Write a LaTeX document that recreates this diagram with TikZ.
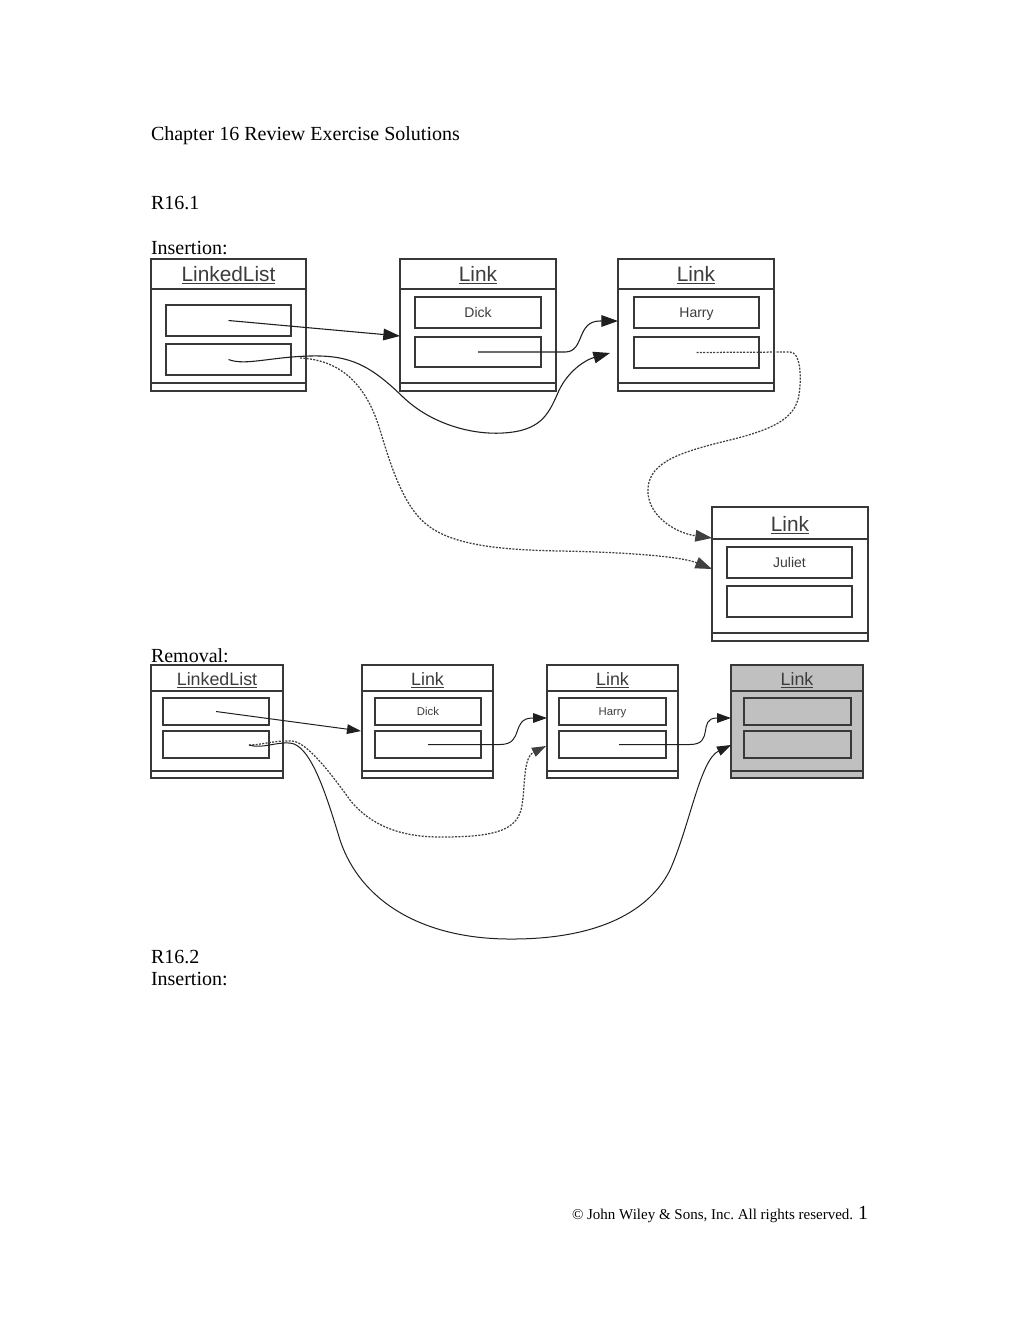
\documentclass[tikz,border=0pt]{standalone}
\usepackage{fontspec}
\setmainfont{Liberation Serif}
\newfontfamily\diagfont{Liberation Sans}
\usetikzlibrary{arrows.meta,calc}
\definecolor{outl}{HTML}{383838}
\definecolor{shade}{HTML}{C0C0C0}
\definecolor{labtxt}{HTML}{3C3C3C}
\newcommand\ulin[1]{\setbox0\hbox{#1}\rlap{\rule[-1.8pt]{\wd0}{0.8pt}}\box0}
\frenchspacing
\begin{document}
\begin{tikzpicture}[x=0.6pt,y=-0.6pt,
  doc/.style={anchor=base west,inner sep=0,outer sep=0,font=\fontsize{12}{14}\selectfont},
  sz/.style 2 args={minimum width=#1*0.6pt,minimum height=#2*0.6pt},
  classbox/.style={draw=outl,line width=1.1pt,inner sep=0,outer sep=0,fill=white},
  fieldbox/.style={draw=outl,line width=1pt,inner sep=0,outer sep=0,text=labtxt},
  fld1/.style={fieldbox,font=\diagfont\fontsize{8.4}{10}\selectfont,text height=6pt,text depth=0pt},
  fld2/.style={fieldbox,font=\diagfont\fontsize{6.8}{8}\selectfont,text height=4.9pt,text depth=0pt},
  sepline/.style={draw=outl,line width=1.1pt},
  hd1/.style={anchor=base,inner sep=0,text=labtxt,font=\diagfont\fontsize{12.5}{14}\selectfont},
  hd2/.style={anchor=base,inner sep=0,text=labtxt,font=\diagfont\fontsize{10.7}{12}\selectfont},
  conn1/.style={draw=black!88,line width=0.65pt,-{Triangle[length=10pt,width=7pt]}},
  conn2/.style={draw=black!88,line width=0.6pt,-{Triangle[length=8.4pt,width=5.8pt]}},
  dconn1/.style={conn1,draw=black!75,line width=0.75pt,dash pattern=on 1.2pt off 0.8pt},
  dconn2/.style={conn2,draw=black!75,line width=0.75pt,dash pattern=on 1.2pt off 0.8pt},
]
\useasboundingbox (0,0) rectangle (1020,1320);

% ---------- document text ----------
\node[doc] (title) at (151,140) {Chapter 16 Review Exercise Solutions};
\node[doc] (r161) at (151,209) {R16.1};
\node[doc] (ins1) at (151,254) {Insertion:};
\node[doc] (rem1) at (151,662) {Removal:};
\node[doc] (r162) at (151,963) {R16.2};
\node[doc] (ins2) at (151,985) {Insertion:};
\node[doc,font=\fontsize{9}{11}\selectfont] (copy) at (572,1219) {© John Wiley \& Sons, Inc. All rights reserved.};
\node[doc] (pageno) at (858,1219) {1};

% ---------- R16.1 insertion ----------
\node[classbox,sz={155}{132}] (ll1) at (228.5,325) {};
\node[classbox,sz={156}{132}] (dk1) at (478,325) {};
\node[classbox,sz={156}{132}] (hr1) at (696,325) {};
\node[classbox,sz={156}{134}] (jl1) at (790,574) {};
\foreach \b/\s/\e in {ll1/289/383, dk1/289/383, hr1/289/383, jl1/539/633} {
  \draw[sepline] (\b.west |- 0,\s) -- (\b.east |- 0,\s);
  \draw[sepline] (\b.west |- 0,\e) -- (\b.east |- 0,\e);
}
\node[hd1] (ll1t) at (228.5,281) {\ulin{LinkedList}};
\node[hd1] (dk1t) at (478,281) {\ulin{Link}};
\node[hd1] (hr1t) at (696,281) {\ulin{Link}};
\node[hd1] (jl1t) at (790,531) {\ulin{Link}};

\node[fld1,sz={125}{31}] (ll1a) at (228.5,320.5) {};
\node[fld1,sz={125}{31}] (ll1b) at (228.5,359.5) {};
\node[fld1,sz={126}{31}] (dk1a) at (478,312.5) {Dick};
\node[fld1,sz={126}{30}] (dk1b) at (478,352) {};
\node[fld1,sz={125}{31}] (hr1a) at (696.5,312.5) {Harry};
\node[fld1,sz={125}{31}] (hr1b) at (696.5,352.5) {};
\node[fld1,sz={125}{31}] (jl1a) at (789.5,562.5) {Juliet};
\node[fld1,sz={125}{31}] (jl1b) at (789.5,601.5) {};

\coordinate (dk1in) at (400,336);
\coordinate (hr1in) at (618,321);
\coordinate (hr1in2) at (610,353);
\coordinate (jl1in) at (712,538);
\coordinate (jl1in2) at (712,569);
\coordinate (ll1out) at (300,358);

\draw[conn1] (ll1a.center) -- (dk1in);
\draw[conn1] (dk1b.center) -- (565,352) .. controls (585,352) and (576,321) .. (600,321) -- (hr1in);
\draw[conn1] (ll1b.center) .. controls (245,366) and (270,357) .. (310,356)
  .. controls (350,355) and (370,365) .. (403,397)
  .. controls (430,423) and (470,435) .. (503,433)
  .. controls (540,431) and (548,415) .. (557,395)
  .. controls (566,372) and (585,360) .. (hr1in2);
\draw[dconn1] (ll1out) .. controls (345,360) and (368,390) .. (380,430)
  .. controls (392,470) and (405,510) .. (430,527)
  .. controls (455,545) and (500,550) .. (560,551)
  .. controls (620,552) and (680,556) .. (jl1in2);
\draw[dconn1] (hr1b.center) -- (790,352) .. controls (800,352) and (802,375) .. (799,395)
  .. controls (795,420) and (770,430) .. (730,440)
  .. controls (680,452) and (650,462) .. (648,488)
  .. controls (646,515) and (675,533) .. (jl1in);

% ---------- R16.1 removal ----------
\node[classbox,sz={132}{113}] (ll2) at (217,721.5) {};
\node[classbox,sz={131}{113}] (dk2) at (427.5,721.5) {};
\node[classbox,sz={131}{113}] (hr2) at (612.5,721.5) {};
\node[classbox,fill=shade,sz={132}{113}] (gr2) at (797,721.5) {};
\foreach \b in {ll2,dk2,hr2,gr2} {
  \draw[sepline] (\b.west |- 0,691) -- (\b.east |- 0,691);
  \draw[sepline] (\b.west |- 0,771) -- (\b.east |- 0,771);
}
\node[hd2] (ll2t) at (217,685) {\ulin{LinkedList}};
\node[hd2] (dk2t) at (427.5,685) {\ulin{Link}};
\node[hd2] (hr2t) at (612.5,685) {\ulin{Link}};
\node[hd2] (gr2t) at (797,685) {\ulin{Link}};

\node[fld2,sz={106}{27}] (ll2a) at (216,711.5) {};
\node[fld2,sz={106}{27}] (ll2b) at (216,744.5) {};
\node[fld2,sz={106}{27}] (dk2a) at (428,711.5) {Dick};
\node[fld2,sz={106}{27}] (dk2b) at (428,744.5) {};
\node[fld2,sz={107}{27}] (hr2a) at (612.5,711.5) {Harry};
\node[fld2,sz={107}{27}] (hr2b) at (612.5,744.5) {};
\node[fld2,fill=shade,sz={107}{27}] (gr2a) at (797.5,711.5) {};
\node[fld2,fill=shade,sz={107}{27}] (gr2b) at (797.5,744.5) {};

\coordinate (dk2in) at (361,731);
\coordinate (hr2in) at (547,718);
\coordinate (hr2in2) at (546,746);
\coordinate (gr2in) at (731,718);
\coordinate (gr2in2) at (731,745);
\coordinate (ll2out) at (249,745);
\coordinate (hr2out) at (619,744.5);

\draw[conn2] (ll2a.center) -- (dk2in);
\draw[conn2] (dk2b.center) -- (500,744.5) .. controls (525,744.5) and (510,718) .. (533,718) -- (hr2in);
\draw[conn2] (hr2out) -- (690,744.5) .. controls (715,744.5) and (697,718) .. (717,718) -- (gr2in);
\draw[dconn2] (ll2out) .. controls (262,745) and (275,740) .. (292,741)
  .. controls (305,742) and (325,765) .. (350,800)
  .. controls (370,825) and (400,837) .. (440,837)
  .. controls (490,837) and (515,832) .. (521,810)
  .. controls (526,790) and (522,758) .. (hr2in2);
\draw[conn2] (ll2out) .. controls (262,749) and (275,742) .. (290,743)
  .. controls (310,745) and (325,790) .. (340,840)
  .. controls (360,900) and (420,938) .. (507,939)
  .. controls (600,940) and (650,910) .. (670,870)
  .. controls (690,825) and (700,760) .. (gr2in2);
\end{tikzpicture}
\end{document}
